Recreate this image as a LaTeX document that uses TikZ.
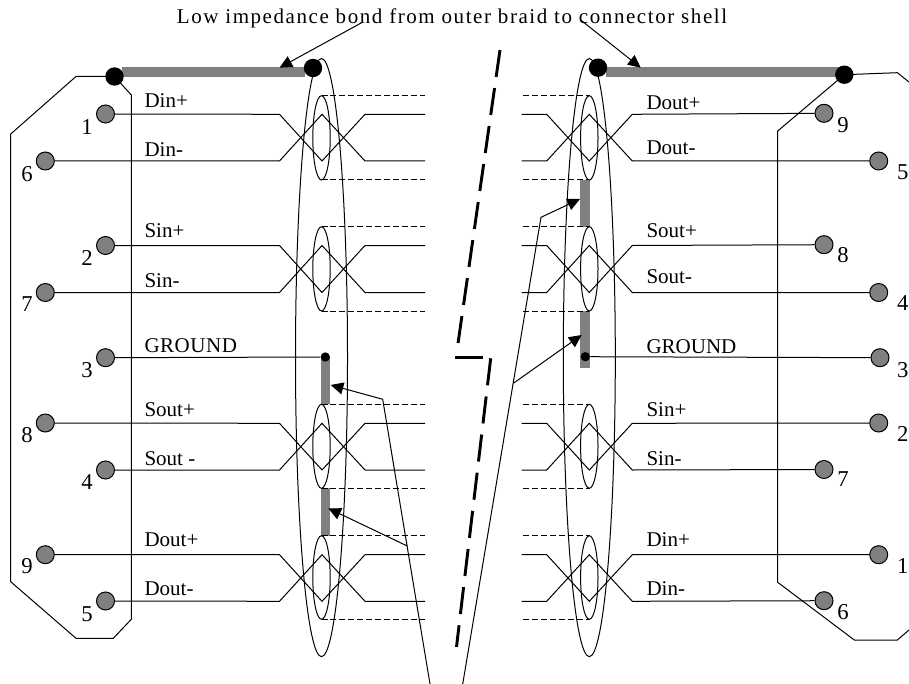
\documentclass[tikz,border=0pt]{standalone}
\usepackage{fontspec}
\setmainfont{Liberation Serif}
\newfontfamily\spacedfont[LetterSpace=7.5]{Liberation Serif}
\newfontfamily\widefont[LetterSpace=2.5]{Liberation Serif}
\usetikzlibrary{arrows.meta}
\definecolor{braidgrey}{rgb}{0.5,0.5,0.5}
\tikzset{every picture/.style={line width=0.75pt}}
\tikzset{
	pin/.style={circle,draw,fill=braidgrey,minimum size=13.5pt,inner sep=0pt},
	bond/.style={circle,fill=black,minimum size=13.8pt,inner sep=0pt},
	groundbond/.style={circle,fill=black,minimum size=7pt,inner sep=0pt},
	signal/.style={anchor=base west,inner sep=0pt,font=\fontsize{15.75}{18}\selectfont},
	pinnumber/.style={inner sep=0pt,font=\fontsize{17}{18}\selectfont},
	strap/.style={draw=none,fill=braidgrey},
	pointer/.style={-{Triangle[length=9.5pt,width=9pt]}},
	screen/.style={dashed,dash pattern=on 4.5pt off 2.2pt},
	breakline/.style={line width=2.2pt,dash pattern=on 20.4pt off 8.4pt},
}
\begin{document}
\begin{tikzpicture}[x=0.75pt,y=0.75pt,yscale=-1]
	\useasboundingbox (0,0) rectangle (909,684);
	%Title
	\node[inner sep=0pt,anchor=base] (title) at (452,23.5) {\fontsize{15.75}{18}\spacedfont Low impedance bond from outer braid to connector shell};
	%Straps
	\fill[strap] (122,67) rectangle (305,77);
	\fill[strap] (606,67) rectangle (840,77);
	\fill[strap] (321,357) rectangle (330,404.3);
	\fill[strap] (321,488.3) rectangle (330,535.7);
	\fill[strap] (580,180) rectangle (590,226.7);
	\fill[strap] (580,311) rectangle (590,368.3);
	%Outer braid
	\draw (321.5,357.6) ellipse (26 and 299.1);
	\draw (589.3,357.6) ellipse (26 and 299.1);
	%Inner screens
	\foreach \rowtop/\rowbot in {95.7/180,226.7/311,404.3/488.3,535.7/619.3}{
		\path (321.5,\rowtop) coordinate (lt) (321.5,\rowbot) coordinate (lb);
		\path (589.3,\rowtop) coordinate (rt) (589.3,\rowbot) coordinate (rb);
		\draw (321.5,{(\rowtop+\rowbot)/2}) ellipse (8.7 and {(\rowbot-\rowtop)/2});
		\draw (589.3,{(\rowtop+\rowbot)/2}) ellipse (8.7 and {(\rowbot-\rowtop)/2});
		\draw[screen] (lt) -- (425,\rowtop);
		\draw[screen] (lb) -- (425,\rowbot);
		\draw[screen] (523.3,\rowtop) -- (rt);
		\draw[screen] (523.3,\rowbot) -- (rb);
	}
	%Left connector pins
	\node[pin] (l1) at (105.5,114) {};
	\node[pin] (l6) at (45.3,161) {};
	\node[pin] (l2) at (105.5,245.5) {};
	\node[pin] (l7) at (45.3,292.5) {};
	\node[pin] (l3) at (105.5,357.7) {};
	\node[pin] (l8) at (45.3,423) {};
	\node[pin] (l4) at (105.5,470) {};
	\node[pin] (l9) at (45.3,554.7) {};
	\node[pin] (l5) at (105.5,601) {};
	%Right connector pins
	\node[pin] (r9) at (824,113.3) {};
	\node[pin] (r5) at (878.7,161) {};
	\node[pin] (r8) at (824,244.7) {};
	\node[pin] (r4) at (878.7,292.5) {};
	\node[pin] (r3) at (880,357.7) {};
	\node[pin] (r2) at (878.7,423) {};
	\node[pin] (r7) at (824,469.5) {};
	\node[pin] (r1) at (878.7,554.7) {};
	\node[pin] (r6) at (824,600.7) {};
	%Twisted pairs
	\foreach \pa/\pb/\ya/\yb in {l1/l6/114.3/161,l2/l7/245.5/292.5,l8/l4/423.3/470,l9/l5/554.7/601.3}{
		\draw (\pa) -- (279.5,\ya) -- (322,\yb) -- (365,\ya) -- (425,\ya);
		\draw (\pb) -- (279.5,\yb) -- (322,\ya) -- (365,\yb) -- (425,\yb);
	}
	\foreach \pa/\pb/\ya/\yb in {r9/r5/114.3/161,r8/r4/245.5/292.5,r2/r7/423.3/470,r1/r6/554.7/601.3}{
		\draw (\pa) -- (632.3,\ya) -- (589.3,\yb) -- (546.7,\ya) -- (521.5,\ya);
		\draw (\pb) -- (632.3,\yb) -- (589.3,\ya) -- (546.7,\yb) -- (521.5,\yb);
	}
	%Ground
	\node[groundbond] (lg) at (325.3,357) {};
	\node[groundbond] (rg) at (585.3,356.7) {};
	\draw (l3) -- (lg);
	\draw (rg) -- (r3);
	%Connector shells
	\node[bond] (ls) at (114.5,76.5) {};
	\node[bond] (lb) at (313,68) {};
	\node[bond] (rb) at (598,67.7) {};
	\node[bond] (rs) at (844.3,74.7) {};
	\draw (ls.center) -- (76,76.5) -- (10.7,134) -- (10.7,581.7) -- (76,638.3) -- (113.3,638.3) -- (131.3,619.3) -- (131.3,95) -- (ls.center);
	\draw (rs.center) -- (897.3,72.7) -- (909,82);
	\draw (rs.center) -- (777.7,131) -- (777.7,582.3) -- (854.3,640) -- (897.3,640) -- (909,630);
	%Pointers
	\coordinate (ta) at (361.7,22.7);
	\coordinate (tb) at (580.7,20);
	\draw[pointer] (ta) -- (279.5,67.7);
	\draw[pointer] (tb) -- (640.7,67.7);
	\coordinate (lowl) at (430,684);
	\coordinate (kneel) at (382.7,399.3);
	\coordinate (branchl) at (407.3,546);
	\draw[pointer] (lowl) -- (kneel) -- (330.7,385);
	\draw[pointer] (branchl) -- (328.3,508.3);
	\coordinate (lowr) at (462.7,684);
	\coordinate (branchr) at (513.3,383.3);
	\coordinate (kneer) at (541,217.3);
	\draw[pointer] (lowr) -- (kneer) -- (580,199);
	\draw[pointer] (branchr) -- (581.7,335);
	%Break in the cable
	\coordinate (ba) at (500,50);
	\coordinate (bb) at (457.5,347);
	\coordinate (bc) at (455,357.5);
	\coordinate (bd) at (482.7,357.5);
	\coordinate (be) at (490.7,358.3);
	\coordinate (bf) at (456.5,647);
	\draw[breakline] (ba) -- (bb);
	\draw[line width=2.2pt] (bc) -- (bd);
	\draw[breakline] (be) -- (bf);
	%Signal names
	\node[signal] (din1) at (144,108) {Din+};
	\node[signal] (din2) at (144,156.7) {Din-};
	\node[signal] (sin1) at (144,238) {Sin+};
	\node[signal] (sin2) at (144,287) {Sin-};
	\node[signal] (gnd1) at (144,352.7) {\widefont GROUND};
	\node[signal] (sout1) at (144,416.7) {Sout+};
	\node[signal] (sout2) at (144,465) {Sout -};
	\node[signal] (dout1) at (144,546.7) {Dout+};
	\node[signal] (dout2) at (144,595) {Dout-};
	\node[signal] (dout3) at (646,110) {Dout+};
	\node[signal] (dout4) at (646,155) {Dout-};
	\node[signal] (sout3) at (646,237.3) {Sout+};
	\node[signal] (sout4) at (646,283.3) {Sout-};
	\node[signal] (gnd2) at (646,353.3) {GROUND};
	\node[signal] (sin3) at (646,416.7) {Sin+};
	\node[signal] (sin4) at (646,465.3) {Sin-};
	\node[signal] (din3) at (646,546.7) {Din+};
	\node[signal] (din4) at (646,595) {Din-};
	%Pin numbers
	\node[pinnumber] (n1) at (87,127) {1};
	\node[pinnumber] (n6) at (27,174) {6};
	\node[pinnumber] (n2) at (87,258) {2};
	\node[pinnumber] (n7) at (27,304) {7};
	\node[pinnumber] (n3) at (87,370) {3};
	\node[pinnumber] (n8) at (27,435) {8};
	\node[pinnumber] (n4) at (87,482) {4};
	\node[pinnumber] (n9) at (27,566) {9};
	\node[pinnumber] (n5) at (87,614) {5};
	\node[pinnumber] (m9) at (843,125) {9};
	\node[pinnumber] (m5) at (902.7,172) {5};
	\node[pinnumber] (m8) at (843,255) {8};
	\node[pinnumber] (m4) at (902.7,303) {4};
	\node[pinnumber] (m3) at (902.7,370) {3};
	\node[pinnumber] (m2) at (902.7,434) {2};
	\node[pinnumber] (m7) at (843,479) {7};
	\node[pinnumber] (m1) at (902.7,566) {1};
	\node[pinnumber] (m6) at (843,612) {6};
\end{tikzpicture}
\end{document}
